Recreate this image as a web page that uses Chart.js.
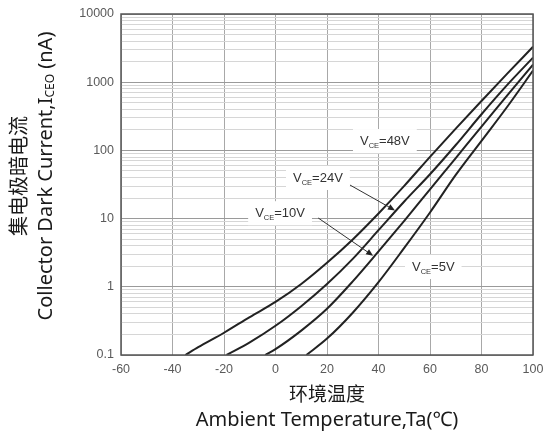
<!DOCTYPE html>
<html>
<head>
<meta charset="utf-8">
<script src="https://cdn.jsdelivr.net/npm/chart.js@4/dist/chart.umd.min.js"></script>
<style>
  html, body { margin: 0; padding: 0; background: #ffffff; }
  canvas { display: block; }
</style>
</head>
<body>
<canvas id="chart" width="544" height="438"></canvas>
<script>
// Collector dark current I_CEO (nA) versus ambient temperature (°C), one curve per V_CE
const tempsV48 = [-35, -30, -20, -10, 0, 10, 20, 30, 40, 50, 60, 70, 80, 90, 100];
const darkV48  = [0.1, 0.13, 0.212, 0.36, 0.6, 1.1, 2.25, 4.95, 11.9, 30.2, 80.4, 209, 531, 1334, 3311];

const tempsV24 = [-19, -10, 0, 10, 20, 30, 40, 50, 60, 70, 80, 90, 100];
const darkV24  = [0.1, 0.153, 0.268, 0.52, 1.10, 2.57, 6.76, 17.8, 44.7, 120, 339, 912, 2291];

const tempsV10 = [-4, 0, 10, 20, 30, 40, 50, 60, 70, 80, 90, 100];
const darkV10  = [0.1, 0.122, 0.228, 0.476, 1.20, 3.30, 9.29, 26.8, 77.3, 223, 643, 1811];

const tempsV5  = [12, 20, 30, 40, 50, 60, 70, 80, 90, 100];
const darkV5   = [0.1, 0.174, 0.417, 1.17, 3.72, 12.3, 43.7, 138, 437, 1479];

const xTicks = [-60, -40, -20, 0, 20, 40, 60, 80, 100];
const yDecades = [0.1, 1, 10, 100, 1000, 10000];
const yTickLabels = ['0.1', '1', '10', '100', '1000', '10000'];

const seriesNames = ['48V', '24V', '10V', '5V'];

const yTitleCn = '集电极暗电流';
const yTitleEn = ['Collector Dark Current,I', 'CEO', ' (nA)'];
const xTitleCn = '环境温度';
const xTitleEn = 'Ambient Temperature,Ta(℃)';

// curve label placement (data coordinates) and leader arrows
const labelSpots = [
  { name: '48V', t: 32.8, i: 137 },
  { name: '24V', t: 6.8,  i: 39.4 },
  { name: '10V', t: -7.9, i: 12 },
  { name: '5V',  t: 53,   i: 1.95 }
];
const arrows = [
  { from: { t: 28.9, i: 31.1 }, to: { t: 46.4, i: 13.2 } },
  { from: { t: 16.6, i: 10.2 }, to: { t: 37.9, i: 2.85 } }
];

function toPoints(ts, vs) { return ts.map((t, k) => ({ x: t, y: vs[k] })); }

const lineStyle = {
  borderColor: '#222222',
  borderWidth: 2,
  pointRadius: 0,
  fill: false,
  cubicInterpolationMode: 'monotone'
};

const datasets = [
  { label: seriesNames[0], data: toPoints(tempsV48, darkV48), ...lineStyle },
  { label: seriesNames[1], data: toPoints(tempsV24, darkV24), ...lineStyle },
  { label: seriesNames[2], data: toPoints(tempsV10, darkV10), ...lineStyle },
  { label: seriesNames[3], data: toPoints(tempsV5,  darkV5),  ...lineStyle }
];

// every 1..9 x 10^n step of the log axis, decades labelled
const yAllTicks = [];
for (let e = -1; e <= 4; e++) {
  for (let m = 1; m <= 9; m++) {
    const v = m * Math.pow(10, e);
    if (v <= 10000 + 1e-9) yAllTicks.push(+v.toPrecision(3));
  }
}
function isDecade(v) { return Math.abs(Math.log10(v) - Math.round(Math.log10(v))) < 1e-6; }

const frameAndText = {
  id: 'frameAndText',
  afterDatasetsDraw(chart) {
    const { ctx, chartArea: a, scales: { x, y } } = chart;
    ctx.save();

    // leader arrows
    ctx.strokeStyle = '#333';
    ctx.fillStyle = '#222';
    ctx.lineWidth = 1;
    arrows.forEach(ar => {
      const x0 = x.getPixelForValue(ar.from.t), y0 = y.getPixelForValue(ar.from.i);
      const x1 = x.getPixelForValue(ar.to.t),   y1 = y.getPixelForValue(ar.to.i);
      const ang = Math.atan2(y1 - y0, x1 - x0);
      ctx.beginPath();
      ctx.moveTo(x0, y0);
      ctx.lineTo(x1 - 5 * Math.cos(ang), y1 - 5 * Math.sin(ang));
      ctx.stroke();
      const L = 7, W = 3;
      ctx.beginPath();
      ctx.moveTo(x1, y1);
      ctx.lineTo(x1 - L * Math.cos(ang) + W * Math.sin(ang), y1 - L * Math.sin(ang) - W * Math.cos(ang));
      ctx.lineTo(x1 - L * Math.cos(ang) - W * Math.sin(ang), y1 - L * Math.sin(ang) + W * Math.cos(ang));
      ctx.closePath();
      ctx.fill();
    });

    // curve labels V_CE=..., on white boxes
    const big = '13px "Liberation Sans", Arial, sans-serif';
    const small = '7.5px "Liberation Sans", Arial, sans-serif';
    labelSpots.forEach(s => {
      const px = x.getPixelForValue(s.t), py = y.getPixelForValue(s.i);
      ctx.font = big;
      const wV = ctx.measureText('V').width;
      const wRest = ctx.measureText('=' + s.name).width;
      ctx.font = small;
      const wSub = ctx.measureText('CE').width;
      const w = wV + wSub + wRest;
      ctx.fillStyle = '#ffffff';
      ctx.fillRect(px - 7, py - 12, w + 14, 24);
      ctx.fillStyle = '#333';
      ctx.textBaseline = 'middle';
      ctx.textAlign = 'left';
      ctx.font = big;
      ctx.fillText('V', px, py);
      ctx.font = small;
      ctx.fillText('CE', px + wV, py + 4.5);
      ctx.font = big;
      ctx.fillText('=' + s.name, px + wV + wSub, py);
    });

    // plot frame
    ctx.strokeStyle = '#555';
    ctx.lineWidth = 1.5;
    ctx.strokeRect(a.left, a.top, a.right - a.left, a.bottom - a.top);
    ctx.restore();
  },
  afterDraw(chart) {
    const { ctx, chartArea: a } = chart;
    const cx = (a.left + a.right) / 2;
    ctx.save();
    ctx.fillStyle = '#1a1a1a';
    ctx.textAlign = 'center';
    ctx.textBaseline = 'middle';

    // x axis titles
    ctx.font = '19px "Noto Sans CJK SC", sans-serif';
    ctx.fillText(xTitleCn, cx, 394);
    ctx.font = '20px "Noto Sans", "Noto Sans CJK SC", sans-serif';
    ctx.fillText(xTitleEn, cx, 420);

    // y axis titles, rotated
    const cy = 176;
    ctx.translate(0, cy);
    ctx.rotate(-Math.PI / 2);
    ctx.font = '20px "Noto Sans CJK SC", sans-serif';
    ctx.fillText(yTitleCn, 0, 18);

    const fBig = '20px "Noto Sans", "Noto Sans CJK SC", sans-serif';
    const fSub = '12px "Noto Sans", "Noto Sans CJK SC", sans-serif';
    ctx.font = fBig;
    const w1 = ctx.measureText(yTitleEn[0]).width;
    const w3 = ctx.measureText(yTitleEn[2]).width;
    ctx.font = fSub;
    const w2 = ctx.measureText(yTitleEn[1]).width;
    const total = w1 + w2 + w3;
    let sx = -total / 2;
    ctx.textAlign = 'left';
    ctx.font = fBig;
    ctx.fillText(yTitleEn[0], sx, 46);
    ctx.font = fSub;
    ctx.fillText(yTitleEn[1], sx + w1, 51);
    ctx.font = fBig;
    ctx.fillText(yTitleEn[2], sx + w1 + w2, 46);
    ctx.restore();
  }
};

new Chart(document.getElementById('chart'), {
  type: 'line',
  data: { datasets },
  options: {
    responsive: false,
    animation: false,
    devicePixelRatio: 1,
    layout: { padding: { top: 14, right: 11, left: 0, bottom: 0 } },
    plugins: { legend: { display: false }, tooltip: { enabled: false } },
    scales: {
      x: {
        type: 'linear',
        min: xTicks[0],
        max: xTicks[xTicks.length - 1],
        afterBuildTicks(s) { s.ticks = xTicks.map(v => ({ value: v })); },
        afterFit(s) { s.height = 83; s.paddingLeft = 0; s.paddingRight = 0; },
        ticks: {
          color: '#5a5a5a',
          font: { family: '"Liberation Sans", Arial, sans-serif', size: 12.5 },
          padding: 7,
          maxRotation: 0,
          autoSkip: false
        },
        grid: { color: '#a8a8a8', lineWidth: 1, drawTicks: false },
        border: { display: false }
      },
      y: {
        type: 'logarithmic',
        min: yDecades[0],
        max: yDecades[yDecades.length - 1],
        afterBuildTicks(s) { s.ticks = yAllTicks.map(v => ({ value: v })); },
        afterFit(s) { s.width = 121; s.paddingTop = 0; s.paddingBottom = 0; },
        ticks: {
          color: '#5a5a5a',
          font: { family: '"Liberation Sans", Arial, sans-serif', size: 12.5 },
          padding: 7,
          autoSkip: false,
          callback(v) {
            const k = yDecades.findIndex(d => Math.abs(d - v) / d < 1e-6);
            return k >= 0 ? yTickLabels[k] : '';
          }
        },
        grid: {
          drawTicks: false,
          lineWidth: 1,
          color(c) { return c.tick && isDecade(c.tick.value) ? '#9a9a9a' : '#d6d6d6'; }
        },
        border: { display: false }
      }
    }
  },
  plugins: [frameAndText]
});
</script>
</body>
</html>
